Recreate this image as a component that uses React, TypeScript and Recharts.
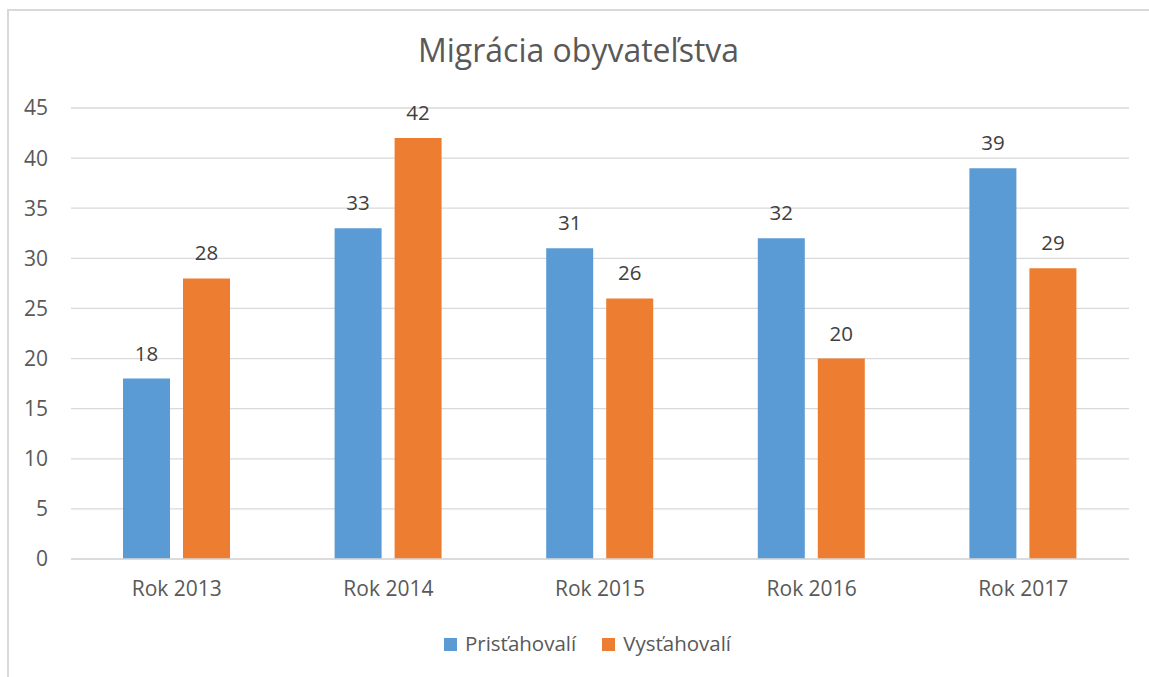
import React from "react";
import { BarChart, Bar, XAxis, YAxis, CartesianGrid, LabelList, Legend } from "recharts";

const categories = ["Rok 2013", "Rok 2014", "Rok 2015", "Rok 2016", "Rok 2017"];
const prist = [18, 33, 31, 32, 39];
const vyst = [28, 42, 26, 20, 29];
const yTicks = [0, 5, 10, 15, 20, 25, 30, 35, 40, 45];
const seriesNames = ["Prisťahovalí", "Vysťahovalí"];
const colors = ["#5b9bd5", "#ed7d31"];

const data = categories.map((c, i) => ({ name: c, a: prist[i], b: vyst[i] }));

const FONT = "'Open Sans', 'Noto Sans', sans-serif";

const LegendContent = () => (
  <div style={{ display: "flex", justifyContent: "center", alignItems: "center", fontFamily: FONT, fontSize: 20.5, color: "#595959", paddingLeft: 26 }}>
    {seriesNames.map((n, i) => (
      <div key={n} style={{ display: "flex", alignItems: "center", marginRight: i === 0 ? 26 : 0 }}>
        <div style={{ width: 13, height: 13, background: colors[i], marginRight: 8, marginTop: 2 }} />
        <span>{n}</span>
      </div>
    ))}
  </div>
);

export default function App() {
  return (
    <div style={{ position: "relative", width: 1149, height: 677, overflow: "hidden", background: "#fff" }}>
      <style>{`body{margin:0}`}</style>
      <div style={{ position: "absolute", left: 7, top: 9, width: 1300, height: 800, border: "2px solid #d9d9d9", boxSizing: "border-box" }} />
      <div style={{ position: "absolute", left: 0, top: 28, width: 1157, textAlign: "center", fontFamily: FONT, fontSize: 32, color: "#595959" }}>
        Migrácia obyvateľstva
      </div>
      <BarChart width={1149} height={677} data={data} margin={{ top: 108, right: 20, bottom: 78, left: 0 }} barGap={13} barSize={47}>
        <CartesianGrid horizontal vertical={false} stroke="#d9d9d9" strokeWidth={1.3} />
        <XAxis dataKey="name" height={40} tickLine={false} axisLine={{ stroke: "#d9d9d9", strokeWidth: 1.3 }} tickMargin={22} tickSize={0}
          tick={{ fill: "#595959", fontSize: 21, fontFamily: FONT }} />
        <YAxis width={71} domain={[0, 45]} ticks={yTicks} tickLine={false} axisLine={false} tickSize={0} tickMargin={23}
          tick={{ fill: "#595959", fontSize: 21, fontFamily: FONT }} />
        <Legend layout="horizontal" verticalAlign="middle" align="center" content={<LegendContent />}
          wrapperStyle={{ position: "absolute", top: 629, left: 0, width: 1149 }} />
        <Bar dataKey="a" name={seriesNames[0]} fill={colors[0]} isAnimationActive={false}>
          <LabelList dataKey="a" position="top" offset={18} fill="#404040" fontSize={20.5} fontFamily={FONT} />
        </Bar>
        <Bar dataKey="b" name={seriesNames[1]} fill={colors[1]} isAnimationActive={false}>
          <LabelList dataKey="b" position="top" offset={18} fill="#404040" fontSize={20.5} fontFamily={FONT} />
        </Bar>
      </BarChart>
    </div>
  );
}
